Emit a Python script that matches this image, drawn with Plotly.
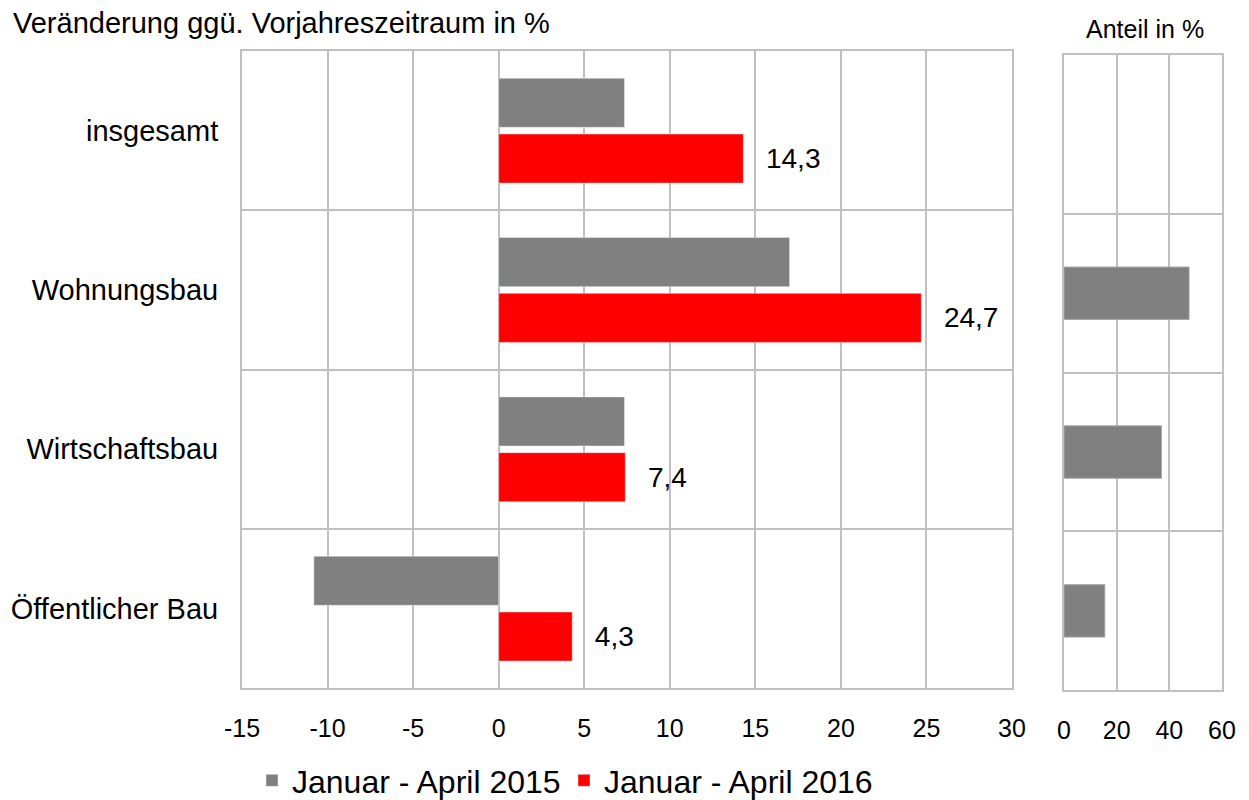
import plotly.graph_objects as go

categories = ["insgesamt", "Wohnungsbau", "Wirtschaftsbau", "Öffentlicher Bau"]
series_2015 = [7.35, 17.0, 7.35, -10.8]
series_2016 = [14.3, 24.7, 7.4, 4.3]
anteil_cats = ["Wohnungsbau", "Wirtschaftsbau", "Öffentlicher Bau"]
anteil = [47.5, 37.0, 15.5]
x_ticks = [-15, -10, -5, 0, 5, 10, 15, 20, 25, 30]
x2_ticks = [0, 20, 40, 60]

FONT = "Liberation Sans, Arial, sans-serif"
GRID = "#c0c0c0"
W, H = 1249, 800
OFF_X = 8        # page body margin
OFF_Y = 6.6      # measured vertical page offset
H_EFF = 789      # measured effective plotting height


def fx(p):
    return (p - OFF_X) / W


def fy(p):
    return 1 - (p - OFF_Y) / H_EFF


pos = list(range(len(categories)))
pos_anteil = [categories.index(c) for c in anteil_cats]

fig = go.Figure()
fig.add_trace(go.Bar(
    y=pos, x=series_2015, orientation="h", name="Januar - April 2015",
    marker=dict(color="#808080"), xaxis="x", yaxis="y",
))
fig.add_trace(go.Bar(
    y=pos, x=series_2016, orientation="h", name="Januar - April 2016",
    marker=dict(color="#ff0000"), xaxis="x", yaxis="y",
    text=[f"{v:.1f}".replace(".", ",") for v in series_2016],
    texttemplate="\u2002\u2009%{text}",
    textposition="outside", constraintext="none", cliponaxis=False,
    textfont=dict(size=28, color="black", family=FONT),
))
fig.add_trace(go.Bar(
    y=pos_anteil, x=anteil, orientation="h", showlegend=False,
    marker=dict(color="#808080", line=dict(color="#a6a6a6", width=1)),
    width=0.33, xaxis="x2", yaxis="y2",
))

axis_common = dict(
    showgrid=True, gridcolor=GRID, gridwidth=2,
    showline=True, linecolor=GRID, linewidth=2, mirror=True,
    zeroline=False, ticks="", automargin=False,
    tickfont=dict(size=25, color="black", family=FONT),
)

fig.update_layout(
    width=W, height=H,
    margin=dict(l=0, r=0, t=0, b=0),
    paper_bgcolor="white", plot_bgcolor="white",
    font=dict(family=FONT, size=25, color="black"),
    barmode="group", bargap=0.3, bargroupgap=0.12,
    separators=",.",
    xaxis=dict(domain=[fx(242), fx(1012)], range=[-15, 30],
               tickvals=x_ticks, ticktext=[str(t) for t in x_ticks],
               ticklabelstandoff=17, anchor="y", **axis_common),
    yaxis=dict(domain=[fy(693), fy(50)], range=[3.5, -0.5],
               tickvals=pos, ticktext=categories, ticklabelstandoff=16,
               anchor="x", automargin=False,
               showgrid=False, showline=True, linecolor=GRID, linewidth=2, mirror=True,
               zeroline=False, ticks="",
               tickfont=dict(size=29, color="black", family=FONT),
               minor=dict(tickvals=[0.5, 1.5, 2.5], showgrid=True,
                          gridcolor=GRID, gridwidth=2, ticks="")),
    xaxis2=dict(domain=[fx(1064), fx(1222)], range=[0, 60],
                tickvals=x2_ticks, ticklabelstandoff=17, anchor="y2", **axis_common),
    yaxis2=dict(domain=[fy(695), fy(54)], range=[3.5, -0.5],
                tickvals=pos, showticklabels=False, anchor="x2", automargin=False,
                showgrid=False, showline=True, linecolor=GRID, linewidth=2, mirror=True,
                zeroline=False, ticks="",
                minor=dict(tickvals=[0.5, 1.5, 2.5], showgrid=True,
                           gridcolor=GRID, gridwidth=2, ticks="")),
    legend=dict(orientation="h", x=fx(252), xanchor="left", y=fy(786),
                yanchor="middle", font=dict(size=32, family=FONT),
                entrywidth=267, traceorder="normal", bgcolor="rgba(0,0,0,0)"),
    annotations=[
        dict(text="Veränderung ggü. Vorjahreszeitraum in %", xref="paper", yref="paper",
             x=fx(11), y=fy(22), xanchor="left", yanchor="middle",
             showarrow=False, font=dict(size=29, family=FONT)),
        dict(text="Anteil in %", xref="paper", yref="paper",
             x=fx(1145), y=fy(28), xanchor="center", yanchor="middle",
             showarrow=False, font=dict(size=25, family=FONT)),
    ],
)

fig.write_html("out.html", config={"displayModeBar": False})
